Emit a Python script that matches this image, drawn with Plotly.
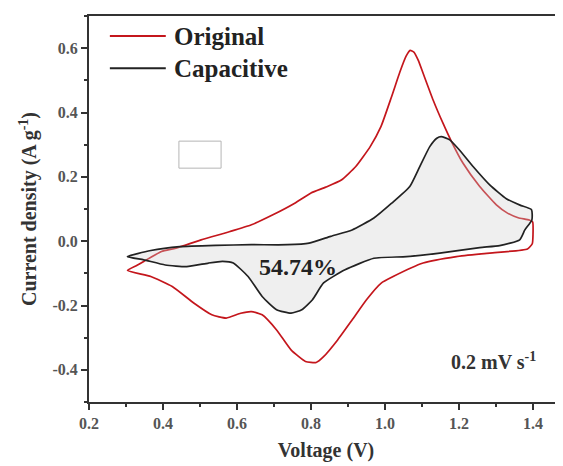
import plotly.graph_objects as go

# Original CV (anodic sweep then cathodic sweep), V vs A g-1
orig_v = [0.304, 0.33, 0.348, 0.396, 0.435, 0.503, 0.581, 0.639, 0.697, 0.756, 0.80, 0.84, 0.882,
          0.921, 0.96, 0.989, 1.018, 1.04, 1.057, 1.068, 1.078, 1.09, 1.103, 1.13, 1.157, 1.18, 1.211, 1.256,
          1.301, 1.33, 1.36, 1.39, 1.399, 1.4, 1.398, 1.385, 1.283, 1.193, 1.103, 1.022, 0.989, 0.95,
          0.911, 0.872, 0.834, 0.814, 0.785, 0.746, 0.707, 0.668, 0.639, 0.61, 0.571, 0.532, 0.484,
          0.425, 0.367, 0.304]
orig_i = [-0.091, -0.075, -0.063, -0.032, -0.022, 0.004, 0.03, 0.051, 0.082, 0.118, 0.15, 0.168, 0.19,
          0.232, 0.294, 0.356, 0.45, 0.525, 0.575, 0.593, 0.588, 0.562, 0.522, 0.439, 0.366, 0.309, 0.242, 0.17,
          0.113, 0.088, 0.073, 0.066, 0.06, 0.02, -0.008, -0.024, -0.037, -0.048, -0.068, -0.11, -0.131, -0.182,
          -0.245, -0.307, -0.359, -0.377, -0.374, -0.338, -0.276, -0.229, -0.219, -0.224, -0.239, -0.229, -0.193,
          -0.141, -0.11, -0.091]

# Capacitive contribution
cap_v = [0.304, 0.367, 0.445, 0.542, 0.639, 0.736, 0.795, 0.853, 0.911, 0.97, 1.018, 1.067, 1.094,
         1.121, 1.14, 1.152, 1.175, 1.2, 1.238, 1.283, 1.328, 1.365, 1.396, 1.397, 1.378, 1.364, 1.31, 1.256,
         1.148, 1.058, 0.97, 0.892, 0.834, 0.804, 0.775, 0.746, 0.707, 0.668, 0.63, 0.59, 0.561, 0.523,
         0.464, 0.406, 0.348, 0.304]
cap_i = [-0.048, -0.029, -0.017, -0.013, -0.011, -0.011, -0.006, 0.015, 0.035, 0.072, 0.118, 0.17, 0.232,
         0.294, 0.32, 0.325, 0.315, 0.285, 0.232, 0.175, 0.132, 0.112, 0.098, 0.066, 0.035, 0.004, -0.014, -0.02,
         -0.037, -0.048, -0.053, -0.089, -0.13, -0.182, -0.213, -0.224, -0.213, -0.172, -0.11, -0.068, -0.063,
         -0.068, -0.079, -0.074, -0.058, -0.048]

series_names = ["Original", "Capacitive"]
series_colors = ["#c4161c", "#222222"]
ratio_label = "54.74%"
rate_label = "0.2 mV s<sup>-1</sup>"
y_tick_vals = [-0.4, -0.2, 0.0, 0.2, 0.4, 0.6]
y_tick_text = ["-0.4", "-0.2", "0.0", "0.2", "0.4", "0.6"]
x_tick_vals = [0.2, 0.4, 0.6, 0.8, 1.0, 1.2, 1.4]
x_tick_text = ["0.2", "0.4", "0.6", "0.8", "1.0", "1.2", "1.4"]

FONT = "Liberation Serif"

fig = go.Figure()
fig.add_trace(go.Scatter(x=orig_v, y=orig_i, mode="lines", name=series_names[0],
                         line=dict(color=series_colors[0], width=1.7, shape="spline", smoothing=0.5)))
fig.add_trace(go.Scatter(x=cap_v, y=cap_i, mode="lines", name=series_names[1], fill="toself",
                         fillcolor="rgba(205,205,205,0.33)",
                         line=dict(color=series_colors[1], width=1.7, shape="spline", smoothing=0.5)))

# legend drawn manually (long line samples)
for k, (nm, col) in enumerate(zip(series_names, series_colors)):
    yp = 0.948 - k * 0.0835
    fig.add_shape(type="line", xref="paper", yref="paper", x0=0.044, x1=0.162, y0=yp, y1=yp,
                  line=dict(color=col, width=2))
    fig.add_annotation(xref="paper", yref="paper", x=0.176, y=yp, text=nm, showarrow=False,
                       xanchor="left", yanchor="middle",
                       font=dict(family=FONT, size=25, color="#222", weight="bold"))

fig.add_annotation(x=0.764, y=-0.08, text=ratio_label, showarrow=False,
                   font=dict(family=FONT, size=24, color="#222", weight="bold"))
fig.add_annotation(x=1.294, y=-0.372, text=rate_label, showarrow=False,
                   font=dict(family=FONT, size=20, color="#333", weight="bold"))

fig.add_shape(type="rect", x0=0.443, x1=0.557, y0=0.227, y1=0.311,
              line=dict(color="#b5b5b5", width=1))

fig.update_xaxes(range=[0.2, 0.2 + 474 / 370], tickmode="array", tickvals=x_tick_vals, ticktext=x_tick_text,
                 showline=True, linecolor="#333", linewidth=2, mirror=True,
                 ticks="outside", ticklen=6, tickwidth=2, tickcolor="#333",
                 minor=dict(ticks="outside", ticklen=3, tickwidth=2, tickcolor="#333", dtick=0.1, tick0=0.2),
                 showgrid=False, zeroline=False,
                 tickfont=dict(family=FONT, size=16, color="#555", weight="bold"),
                 title=dict(text="Voltage (V)", standoff=12,
                            font=dict(family=FONT, size=20, color="#333", weight="bold")))
fig.update_yaxes(range=[-0.5, 0.7], tickmode="array", tickvals=y_tick_vals, ticktext=y_tick_text,
                 showline=True, linecolor="#333", linewidth=2, mirror=False,
                 ticks="outside", ticklen=6, tickwidth=2, tickcolor="#333",
                 minor=dict(ticks="outside", ticklen=3, tickwidth=2, tickcolor="#333", dtick=0.1, tick0=0),
                 showgrid=False, zeroline=False,
                 tickfont=dict(family=FONT, size=16, color="#555", weight="bold"),
                 title=dict(text="Current density (A g<sup>-1</sup>)", standoff=10,
                            font=dict(family=FONT, size=20, color="#333", weight="bold")))

fig.update_layout(width=555, height=458, margin=dict(l=81, r=0, t=8, b=64, autoexpand=False),
                  paper_bgcolor="white", plot_bgcolor="white", showlegend=False)

fig.write_html("out.html")
